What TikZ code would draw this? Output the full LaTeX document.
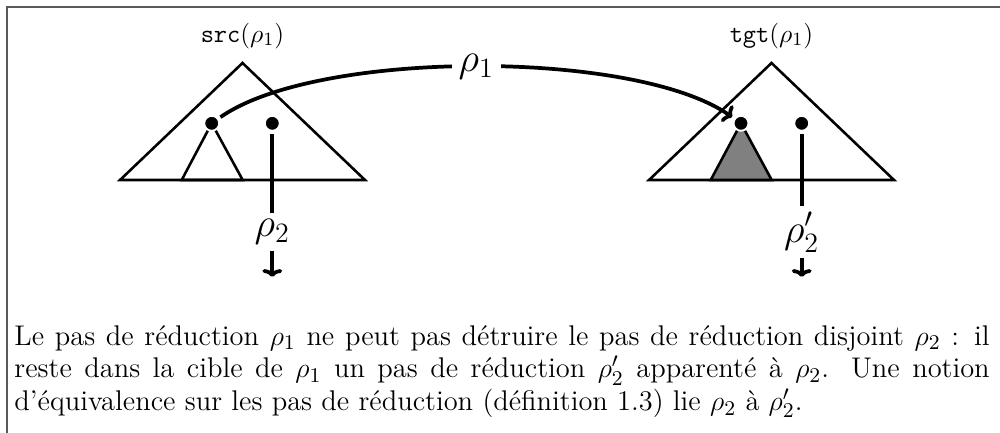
\documentclass[tikz,border=0pt]{standalone}
\usepackage{fontspec}
\usetikzlibrary{arrows.meta}
\begin{document}
\begin{tikzpicture}[x=0.4286pt,y=-0.4286pt,
  tri/.style={line width=1.1pt, line join=miter},
  conn/.style={line width=1.6pt},
  dot/.style={circle, fill=black, draw=white, line width=0.8pt, minimum size=6.4pt, inner sep=0pt},
  rholab/.style={font=\fontsize{17}{20}\selectfont, inner sep=0pt},
  toplab/.style={font=\fontsize{11}{13}\selectfont, anchor=base, inner sep=0pt},
  tip/.style={-{To[length=3.4pt,width=8.5pt]}}]
\useasboundingbox (0,0) rectangle (1000,432);
\draw[black!65, line width=0.7pt] (7,445) -- (7,7) -- (1010,7);

% ---- left tree: src(rho_1)
\node[toplab] (srclab) at (242.5,42) {\texttt{src}($\rho_1$)};
\draw[tri] (120,180) -- (242.5,63) -- (365,180) -- cycle;
\coordinate (p1) at (211.7,123.3);
\coordinate (p2) at (272.3,123.3);
\draw[tri] (p1) -- (181.7,180) -- (242.7,180) -- cycle;
\node[dot] (d1) at (p1) {};
\node[dot] (d2) at (p2) {};

% ---- right tree: tgt(rho_1)
\node[toplab] (tgtlab) at (771.5,42) {\texttt{tgt}($\rho_1$)};
\draw[tri] (649,180) -- (771.5,63) -- (894,180) -- cycle;
\coordinate (p3) at (741,123.3);
\coordinate (p4) at (801.7,123.3);
\filldraw[tri, fill=gray] (p3) -- (710.7,180) -- (771.7,180) -- cycle;
\node[dot] (d3) at (p3) {};
\node[dot] (d4) at (p4) {};

% ---- rho_2 and rho_2'
\node[rholab, minimum height=15.9pt] (l2) at (272.3,231.5) {$\rho_2$};
\coordinate (e2) at (272.3,277);
\draw[conn, shorten <=1pt] (d2) -- (l2);
\draw[conn, tip] (l2) -- (e2);

\node[rholab, minimum height=21.9pt] (l4) at (801.7,232.4) {$\rho'_2$};
\coordinate (e4) at (801.7,277);
\draw[conn, shorten <=1pt] (d4) -- (l4);
\draw[conn, tip] (l4) -- (e4);

% ---- rho_1 curved arrow
\draw[conn, tip, shorten <=1pt, shorten >=1pt] (d1) to[out=35, in=145, looseness=0.6]
  node[rholab, fill=white, inner xsep=3pt, inner ysep=1pt] (r1) {$\rho_1$} (d3);

% ---- caption
\node[anchor=base west, inner sep=0pt] (cap) at (14,345)
 {\parbox[t]{418pt}{\fontsize{12.2}{14.1}\selectfont
  Le pas de réduction $\rho_1$ ne peut pas détruire le pas de réduction disjoint $\rho_2$~: il\linebreak
  reste dans la cible de $\rho_1$ un pas de réduction $\rho'_2$ apparenté à $\rho_2$. Une notion\linebreak
  d'équivalence sur les pas de réduction (définition 1.3) lie $\rho_2$ à $\rho'_2$.\par}};
\end{tikzpicture}
\end{document}
